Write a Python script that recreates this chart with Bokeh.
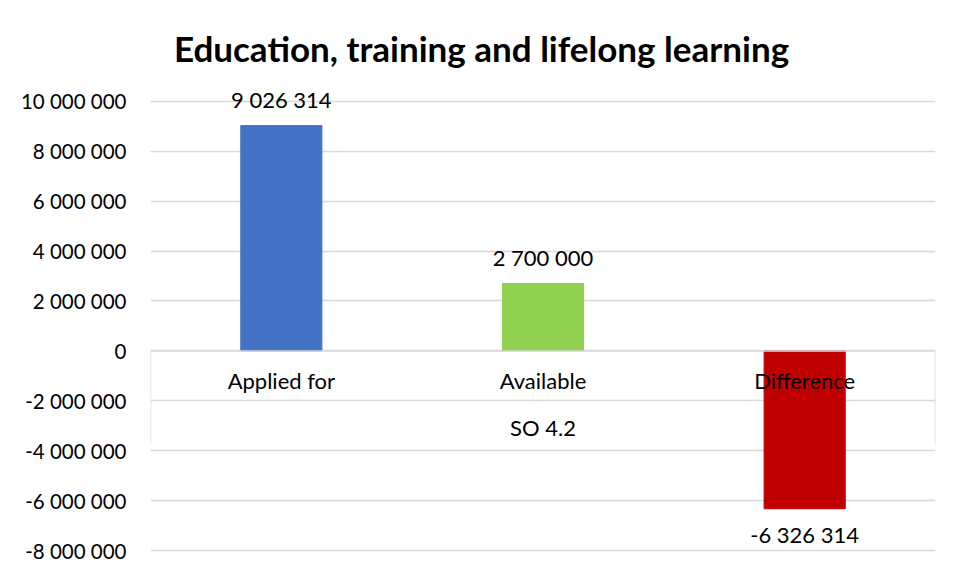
from bokeh.plotting import figure
from bokeh.models import Range1d, FixedTicker, ColumnDataSource, Label
from bokeh.core.properties import value
from bokeh.embed import file_html
from bokeh.resources import INLINE

# ---- data ----
title_text = "Education, training and lifelong learning"
categories = ["Applied for", "Available", "Difference"]
group_label = "SO 4.2"
values = [9026314, 2700000, -6326314]
colors = ["#4472C4", "#92D050", "#C00000"]
y_ticks = [-8000000, -6000000, -4000000, -2000000, 0, 2000000, 4000000, 6000000, 8000000, 10000000]


def fmt(v):
    return f"{v:,}".replace(",", " ")


FONT = "Lato"
W, H = 945, 563

p = figure(width=W, height=H, output_backend="svg", toolbar_location=None,
           x_range=Range1d(0, 3), y_range=Range1d(-8400000, 14000000))
p.min_border_left = 150
p.min_border_right = 10
p.min_border_top = 1
p.min_border_bottom = 3
p.outline_line_color = None
p.background_fill_color = "white"
p.border_fill_color = "white"

p.xaxis.visible = False
p.xgrid.visible = False
p.ygrid.ticker = FixedTicker(ticks=y_ticks)
p.ygrid.grid_line_color = "#D9D9D9"
p.ygrid.grid_line_width = 1.3

ax = p.yaxis[0]
ax.ticker = FixedTicker(ticks=y_ticks)
ax.major_label_overrides = {t: fmt(t) for t in y_ticks}
ax.axis_line_color = None
ax.major_tick_line_color = None
ax.minor_tick_line_color = None
ax.major_label_standoff = 18
ax.major_label_text_font = FONT
ax.major_label_text_font_size = "20.5px"
ax.major_label_text_color = "#000000"

xs = [i + 0.5 for i in range(len(categories))]
src = ColumnDataSource(dict(
    x=xs, top=values, color=colors, cat=categories,
    lab=[fmt(v) for v in values],
    zero=[0] * len(values),
    off=[-26 if v >= 0 else 26 for v in values],
))

p.vbar(x="x", top="top", bottom=0, width=0.31, color="color", source=src)

# category axis lines (multi-level box)
p.segment(x0=[0], y0=[0], x1=[3], y1=[0], line_color="#D9D9D9", line_width=1.5)
p.segment(x0=[0, 3], y0=[0, 0], x1=[0, 3], y1=[-3720000, -3720000],
          line_color="#D9D9D9", line_width=1.5)

# category labels
p.text(x="x", y="zero", text="cat", source=src, y_offset=30,
       text_align="center", text_baseline="middle",
       text_font=value(FONT), text_font_size="22px", text_color="#000000")
# group label
p.text(x=[1.5], y=[0], text=[group_label], y_offset=77,
       text_align="center", text_baseline="middle",
       text_font=value(FONT), text_font_size="22px", text_color="#000000")
# data labels
p.text(x="x", y="top", text="lab", source=src, y_offset="off",
       text_align="center", text_baseline="middle",
       text_font=value(FONT), text_font_size="22px", text_color="#000000")

# title
p.add_layout(Label(x=331, y=513, x_units="screen", y_units="screen",
                   text=title_text, text_align="center", text_baseline="middle",
                   text_font=FONT, text_font_style="bold",
                   text_font_size="35px", text_color="#000000"))

open("out.html", "w").write(file_html(p, INLINE))
